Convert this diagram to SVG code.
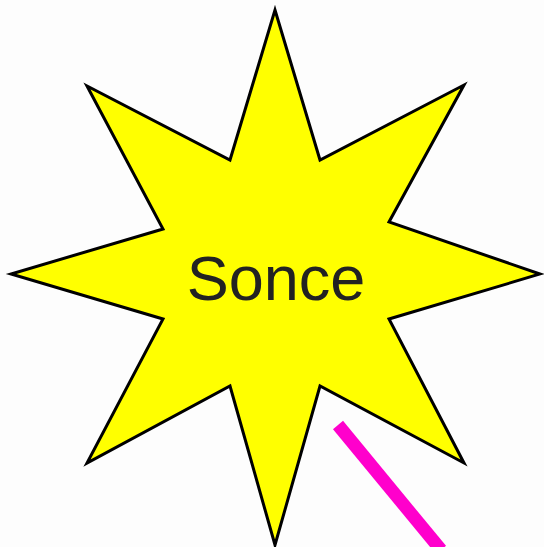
<svg xmlns="http://www.w3.org/2000/svg" width="544" height="547" viewBox="0 0 544 547">
<style>
.star{fill:#ffff00;stroke:#000;stroke-width:3;stroke-linejoin:miter}
.lbl{font-family:"Liberation Sans",Arial,sans-serif;font-size:63px;fill:#222;text-anchor:middle}
.wand{stroke:#ff00cc;stroke-width:13;stroke-linecap:butt;fill:none}
</style>
<rect width="544" height="547" fill="#fdfdfd"/>
<g id="sun">
<polygon class="star" points="275,10 320,160 464,85 389,222 540,274 389,319 464,463 320,386 275,545 230,386 87,463 163,319 11,274 163,229 87,86 230,160"/>
<text class="lbl" x="276" y="300">Sonce</text>
</g>
<g id="connectors">
<line class="wand" x1="338" y1="425" x2="441" y2="550"/>
</g>
</svg>
